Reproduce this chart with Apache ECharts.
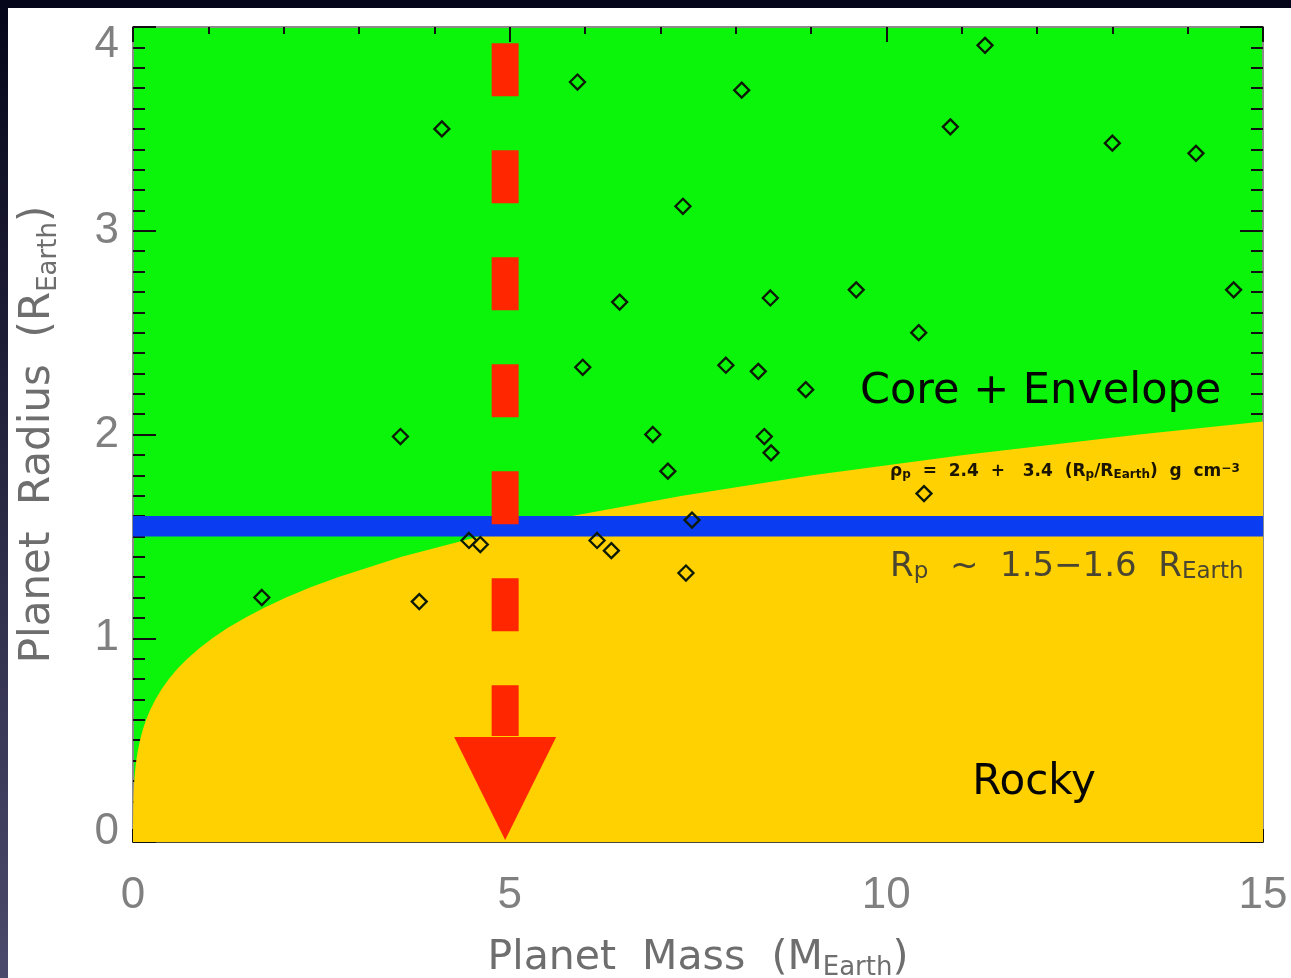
<!DOCTYPE html>
<html>
<head>
<meta charset="utf-8">
<script src="https://cdn.jsdelivr.net/npm/echarts@6/dist/echarts.min.js"></script>
<style>
  html, body { margin: 0; padding: 0; background: #ffffff; }
  #chart { width: 1291px; height: 978px; }
</style>
</head>
<body>
<div id="chart"></div>
<script>
// Planets: mass (Earth masses) and radius (Earth radii)
const planetMass = [1.71, 3.55, 3.80, 4.10, 4.46, 4.61, 5.90, 5.97, 6.16, 6.35, 6.46,
                    6.90, 7.10, 7.30, 7.34, 7.42, 7.87, 8.08, 8.30, 8.38, 8.46, 8.47,
                    8.93, 9.60, 10.43, 10.50, 10.85, 11.31, 13.00, 14.11, 14.61];
const planetRadius = [1.20, 1.99, 1.18, 3.50, 1.48, 1.46, 3.73, 2.33, 1.48, 1.43, 2.65,
                      2.00, 1.82, 3.12, 1.32, 1.58, 2.34, 3.69, 2.31, 1.99, 2.67, 1.91,
                      2.22, 2.71, 2.50, 1.71, 3.51, 3.91, 3.43, 3.38, 2.71];

// Rocky / envelope boundary, rho_p = 2.4 + 3.4 (Rp/REarth) g cm^-3
const boundaryRadius = [0, 0.1, 0.2, 0.25, 0.3, 0.35, 0.4, 0.45, 0.5, 0.55, 0.6, 0.65,
                        0.7, 0.75, 0.8, 0.85, 0.9, 0.95, 1.0, 1.05, 1.1, 1.15, 1.2,
                        1.25, 1.3, 1.4, 1.5, 1.6, 1.7, 1.8, 1.9, 2.0, 2.064];
const boundaryMass = [0, 0.0005, 0.0045, 0.0092, 0.0168, 0.0279, 0.0437, 0.065, 0.093,
                      0.1289, 0.174, 0.2298, 0.298, 0.379, 0.476, 0.5896, 0.722, 0.8761,
                      1.053, 1.2543, 1.483, 1.7417, 2.032, 2.3572, 2.719, 3.566, 4.594,
                      5.828, 7.294, 9.018, 11.029, 13.358, 15.0];

// Transition radius band
const transitionBand = [1.5, 1.6];

// Dashed arrow near 5 Earth masses
const arrowMass = 4.94;
const arrowShaft = [3.92, 0.52];
const arrowHeadCenter = 0.262;

// Axes
const massRange = [0, 15];
const massStep = 5;
const radiusRange = [0, 4];
const radiusStep = 1;

// Annotation anchors [mass, radius]
const coreLabelAt = [9.65, 2.21];
const rockyLabelAt = [11.14, 0.29];
const bandLabelAt = [10.05, 1.35];
const densityLabelAt = [10.05, 1.816];

const GREEN = '#0af50a';
const YELLOW = '#ffd100';
const BLUE = '#0a3cf2';
const RED = '#ff2600';
const GREY = '#6e6e6e';
const TICK_GREY = '#808080';

const chart = echarts.init(document.getElementById('chart'), null, { renderer: 'canvas' });

const tickFont = 'Liberation Sans';
const textFont = 'DejaVu Sans';

function mkX(pos) {
  const bottom = pos === 'bottom';
  return {
    type: 'value', gridIndex: 0, position: pos,
    min: massRange[0], max: massRange[1], interval: massStep,
    axisLine: { show: true, onZero: false, lineStyle: { color: bottom ? '#4a4a3a' : '#8a8a8a', width: 2 } },
    axisTick: { show: true, inside: true, length: bottom ? 13 : 15, lineStyle: { color: '#111', width: 2 } },
    minorTick: { show: true, splitNumber: 5, length: bottom ? 6 : 7, lineStyle: { color: '#111', width: 2 } },
    splitLine: { show: false },
    axisLabel: bottom ? { show: true, fontSize: 44, fontFamily: tickFont, color: TICK_GREY, margin: 32 } : { show: false },
    name: bottom ? '{a|Planet  Mass  (M}{b|Earth}{a|)}' : '',
    nameLocation: 'middle',
    nameGap: 93,
    nameTextStyle: {
      rich: {
        a: { fontSize: 41, fontFamily: textFont, color: GREY, lineHeight: 46 },
        b: { fontSize: 26, fontFamily: textFont, color: GREY, lineHeight: 16, verticalAlign: 'bottom' }
      }
    }
  };
}

function mkY(pos) {
  const left = pos === 'left';
  return {
    type: 'value', gridIndex: 0, position: pos,
    min: radiusRange[0], max: radiusRange[1], interval: radiusStep,
    axisLine: { show: true, onZero: false, lineStyle: { color: '#8a8a8a', width: 2 } },
    axisTick: { show: true, inside: true, length: 23, lineStyle: { color: '#111', width: 2 } },
    minorTick: { show: true, splitNumber: 10, length: 12, lineStyle: { color: '#111', width: 2 } },
    splitLine: { show: false },
    axisLabel: left ? {
      show: true, margin: 14,
      formatter: function (v) {
        if (v === radiusRange[1]) return '{t|' + v + '}';
        if (v === radiusRange[0]) return '{b|' + v + '}';
        return '{m|' + v + '}';
      },
      rich: {
        t: { fontSize: 44, fontFamily: tickFont, color: TICK_GREY, padding: [36, 0, 0, 0] },
        b: { fontSize: 44, fontFamily: tickFont, color: TICK_GREY, padding: [0, 0, 20, 0] },
        m: { fontSize: 44, fontFamily: tickFont, color: TICK_GREY }
      }
    } : { show: false },
    name: left ? '{a|Planet  Radius  (R}{b|Earth}{a|)}' : '',
    nameLocation: 'middle',
    nameGap: 71,
    nameTextStyle: {
      rich: {
        a: { fontSize: 42, fontFamily: textFont, color: GREY, lineHeight: 48 },
        b: { fontSize: 26, fontFamily: textFont, color: GREY, lineHeight: 16, verticalAlign: 'bottom' }
      }
    }
  };
}

const option = {
  animation: false,
  backgroundColor: '#ffffff',
  grid: {
    left: 133, top: 27, width: 1130, height: 815,
    outerBoundsMode: 'none', containLabel: false,
    show: true, backgroundColor: GREEN, borderWidth: 0
  },
  xAxis: [mkX('bottom'), mkX('top')],
  yAxis: [mkY('left'), mkY('right')],
  series: [
    {
      // rocky region below the density boundary
      type: 'line', xAxisIndex: 0, yAxisIndex: 0, z: 2, silent: true,
      data: boundaryMass.map((m, i) => [m, boundaryRadius[i]]),
      symbol: 'none', smooth: false, clip: true,
      lineStyle: { width: 0 },
      areaStyle: { color: YELLOW, opacity: 1, origin: 'start' }
    },
    {
      // 1.5 - 1.6 REarth transition band
      type: 'custom', xAxisIndex: 0, yAxisIndex: 0, z: 3, silent: true,
      data: [[transitionBand[0], transitionBand[1]]],
      renderItem: function (params, api) {
        const p1 = api.coord([massRange[0], api.value(1)]);
        const p2 = api.coord([massRange[1], api.value(0)]);
        return {
          type: 'rect',
          shape: { x: p1[0], y: p1[1], width: p2[0] - p1[0], height: p2[1] - p1[1] },
          style: { fill: BLUE }
        };
      }
    },
    {
      // dashed arrow shaft
      type: 'line', xAxisIndex: 0, yAxisIndex: 0, z: 4, silent: true,
      data: [[arrowMass, arrowShaft[0]], [arrowMass, arrowShaft[1]]],
      symbol: 'none',
      lineStyle: { color: RED, width: 27, type: [53, 54], cap: 'butt' }
    },
    {
      // arrow head
      type: 'scatter', xAxisIndex: 0, yAxisIndex: 0, z: 4, silent: true,
      data: [[arrowMass, arrowHeadCenter]],
      symbol: 'path://M0,0L100,0L50,100Z', symbolKeepAspect: false,
      symbolSize: [102, 103],
      itemStyle: { color: RED, opacity: 1 }
    },
    {
      // planets
      type: 'scatter', xAxisIndex: 0, yAxisIndex: 0, z: 5, silent: true,
      data: planetMass.map((m, i) => [m, planetRadius[i]]),
      symbol: 'diamond', symbolSize: 15,
      itemStyle: { color: 'rgba(0,0,0,0)', borderColor: '#0d1a05', borderWidth: 2.3, opacity: 1 }
    }
  ]
};

chart.setOption(option);

function px(pt) { return chart.convertToPixel({ xAxisIndex: 0, yAxisIndex: 0 }, pt); }

const pCore = px(coreLabelAt);
const pRocky = px(rockyLabelAt);
const pBand = px(bandLabelAt);
const pDens = px(densityLabelAt);

chart.setOption({
  graphic: [
    {
      type: 'rect', z: 0, silent: true,
      shape: { x: 0, y: 0, width: 1291, height: 8 },
      style: { fill: '#05061a' }
    },
    {
      type: 'rect', z: 0, silent: true,
      shape: { x: 0, y: 0, width: 8, height: 978 },
      style: {
        fill: new echarts.graphic.LinearGradient(0, 0, 0, 1, [
          { offset: 0, color: '#06061a' },
          { offset: 1, color: '#4c4a6c' }
        ])
      }
    },
    {
      type: 'text', z: 100, silent: true, x: pCore[0], y: pCore[1],
      style: { text: 'Core + Envelope', font: '43px "DejaVu Sans"', fill: '#050505', align: 'left', verticalAlign: 'middle' }
    },
    {
      type: 'text', z: 100, silent: true, x: pRocky[0], y: pRocky[1],
      style: { text: 'Rocky', font: '42px "DejaVu Sans"', fill: '#050505', align: 'left', verticalAlign: 'middle' }
    },
    {
      type: 'text', z: 100, silent: true, x: pBand[0], y: pBand[1],
      style: {
        text: '{a|R}{s|p}{a|  ~  1.5\u22121.6  R}{s|Earth}',
        align: 'left', verticalAlign: 'middle',
        rich: {
          a: { fontSize: 34, fontFamily: textFont, fill: '#4a4530', lineHeight: 34 },
          s: { fontSize: 23, fontFamily: textFont, fill: '#4a4530', lineHeight: 14, verticalAlign: 'bottom' }
        }
      }
    },
    {
      type: 'text', z: 100, silent: true, x: pDens[0], y: pDens[1],
      style: {
        text: '{a|\u03c1}{s|p}{a|  =  2.4  +   3.4  (R}{s|p}{a|/R}{s|Earth}{a|)  g  cm}{u|\u22123}',
        align: 'left', verticalAlign: 'middle',
        rich: {
          a: { fontSize: 17, fontWeight: 'bold', fontFamily: textFont, fill: '#1a1400', lineHeight: 18 },
          s: { fontSize: 12, fontWeight: 'bold', fontFamily: textFont, fill: '#1a1400', lineHeight: 8, verticalAlign: 'bottom' },
          u: { fontSize: 12, fontWeight: 'bold', fontFamily: textFont, fill: '#1a1400', lineHeight: 8, verticalAlign: 'top' }
        }
      }
    }
  ]
});
</script>
</body>
</html>
